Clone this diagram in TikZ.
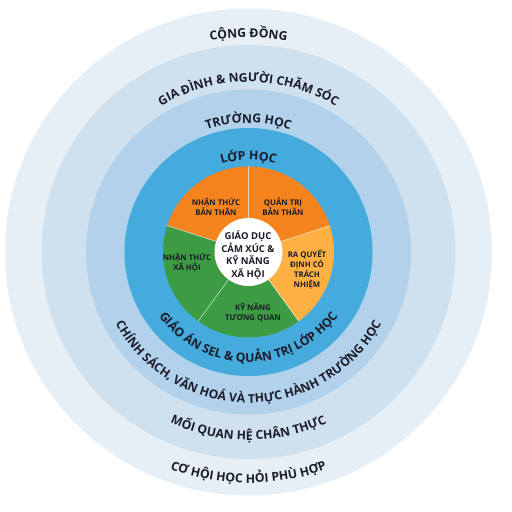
\documentclass[tikz,border=0pt]{standalone}
\usepackage{fontspec}
\setmainfont{Open Sans}
\usetikzlibrary{decorations.text,calc}
\definecolor{ringA}{HTML}{E6EEF6}
\definecolor{ringB}{HTML}{CFE0EF}
\definecolor{ringC}{HTML}{B2D2EB}
\definecolor{ringD}{HTML}{45AADC}
\definecolor{orgD}{HTML}{F5841F}
\definecolor{orgL}{HTML}{FDB143}
\definecolor{grn}{HTML}{3C9B43}
\definecolor{txt}{HTML}{1C1C2A}
\tikzset{
  ringlbl/.style={decorate, decoration={text along path, text align=center,
     text color=txt, text={|\bfseries\fontsize{12.2}{13}\selectfont|#1}}},
  slicelbl/.style={font=\bfseries\fontsize{7.8}{10}\selectfont, text=txt, align=center, inner sep=0pt},
  centerlbl/.style={font=\bfseries\fontsize{9.5}{12.8}\selectfont, text=txt, align=center, inner sep=0pt},
  sep/.style={white, opacity=0.6, line width=0.7pt}
}
\begin{document}
\begin{tikzpicture}[x=1pt,y=1pt]
\useasboundingbox (0,0) rectangle (512,512);
\coordinate (C) at (248.5,260);
% rings
\fill[ringA] (C) circle (243.5);
\fill[ringB] (C) circle (207);
\fill[ringC] (C) circle (162.5);
\fill[ringD] (C) circle (124);
% pie
\fill[orgD] (C) -- ++(90:85.5) arc[start angle=90,end angle=162,radius=85.5] -- cycle;
\fill[grn]  (C) -- ++(162:85.5) arc[start angle=162,end angle=234,radius=85.5] -- cycle;
\fill[grn]  (C) -- ++(234:85.5) arc[start angle=234,end angle=306,radius=85.5] -- cycle;
\fill[orgL] (C) -- ++(306:85.5) arc[start angle=306,end angle=378,radius=85.5] -- cycle;
\fill[orgD] (C) -- ++(18:85.5) arc[start angle=18,end angle=90,radius=85.5] -- cycle;
\foreach \a in {90,162,234,306,18}
  \draw[sep] (C) -- ++(\a:85.5);
\fill[white] (C) circle (34);
% top ring labels
\path[ringlbl={CỘNG ĐỒNG}] ($(C)+(150:214.5)$) arc[start angle=150,end angle=30,radius=214.5];
\path[ringlbl={GIA ĐÌNH {\&} NGƯỜI CHĂM SÓC}] ($(C)+(160:170)$) arc[start angle=160,end angle=20,radius=170];
\path[ringlbl={TRƯỜNG HỌC}] ($(C)+(160:129)$) arc[start angle=160,end angle=20,radius=129];
\path[ringlbl={LỚP HỌC}] ($(C)+(160:92)$) arc[start angle=160,end angle=20,radius=92];
% bottom ring labels
\path[ringlbl={GIÁO ÁN SEL {\&} QUẢN TRỊ LỚP HỌC}] ($(C)+(190:110)$) arc[start angle=190,end angle=350,radius=110];
\path[ringlbl={CHÍNH SÁCH, VĂN HOÁ VÀ THỰC HÀNH TRƯỜNG HỌC}] ($(C)+(190:151)$) arc[start angle=190,end angle=350,radius=151];
\path[ringlbl={MỐI QUAN HỆ CHÂN THỰC}] ($(C)+(200:188)$) arc[start angle=200,end angle=340,radius=188];
\path[ringlbl={CƠ HỘI HỌC HỎI PHÙ HỢP}] ($(C)+(210:231)$) arc[start angle=210,end angle=330,radius=231];
% slice labels
\node[slicelbl] (ntbt) at (216,305) {NHẬN THỨC\\BẢN THÂN};
\node[slicelbl] (qtbt) at (283,305) {QUẢN TRỊ\\BẢN THÂN};
\node[slicelbl] (rqd) at (307,242) {RA QUYẾT\\ĐỊNH CÓ\\TRÁCH\\NHIỆM};
\node[slicelbl] (ntxh) at (187,249) {NHẬN THỨC\\XÃ HỘI};
\node[slicelbl] (kntq) at (253,199) {KỸ NĂNG\\TƯƠNG QUAN};
\node[centerlbl] (sel) at (248,257) {GIÁO DỤC\\CẢM XÚC {\&}\\KỸ NĂNG\\XÃ HỘI};
\end{tikzpicture}
\end{document}
